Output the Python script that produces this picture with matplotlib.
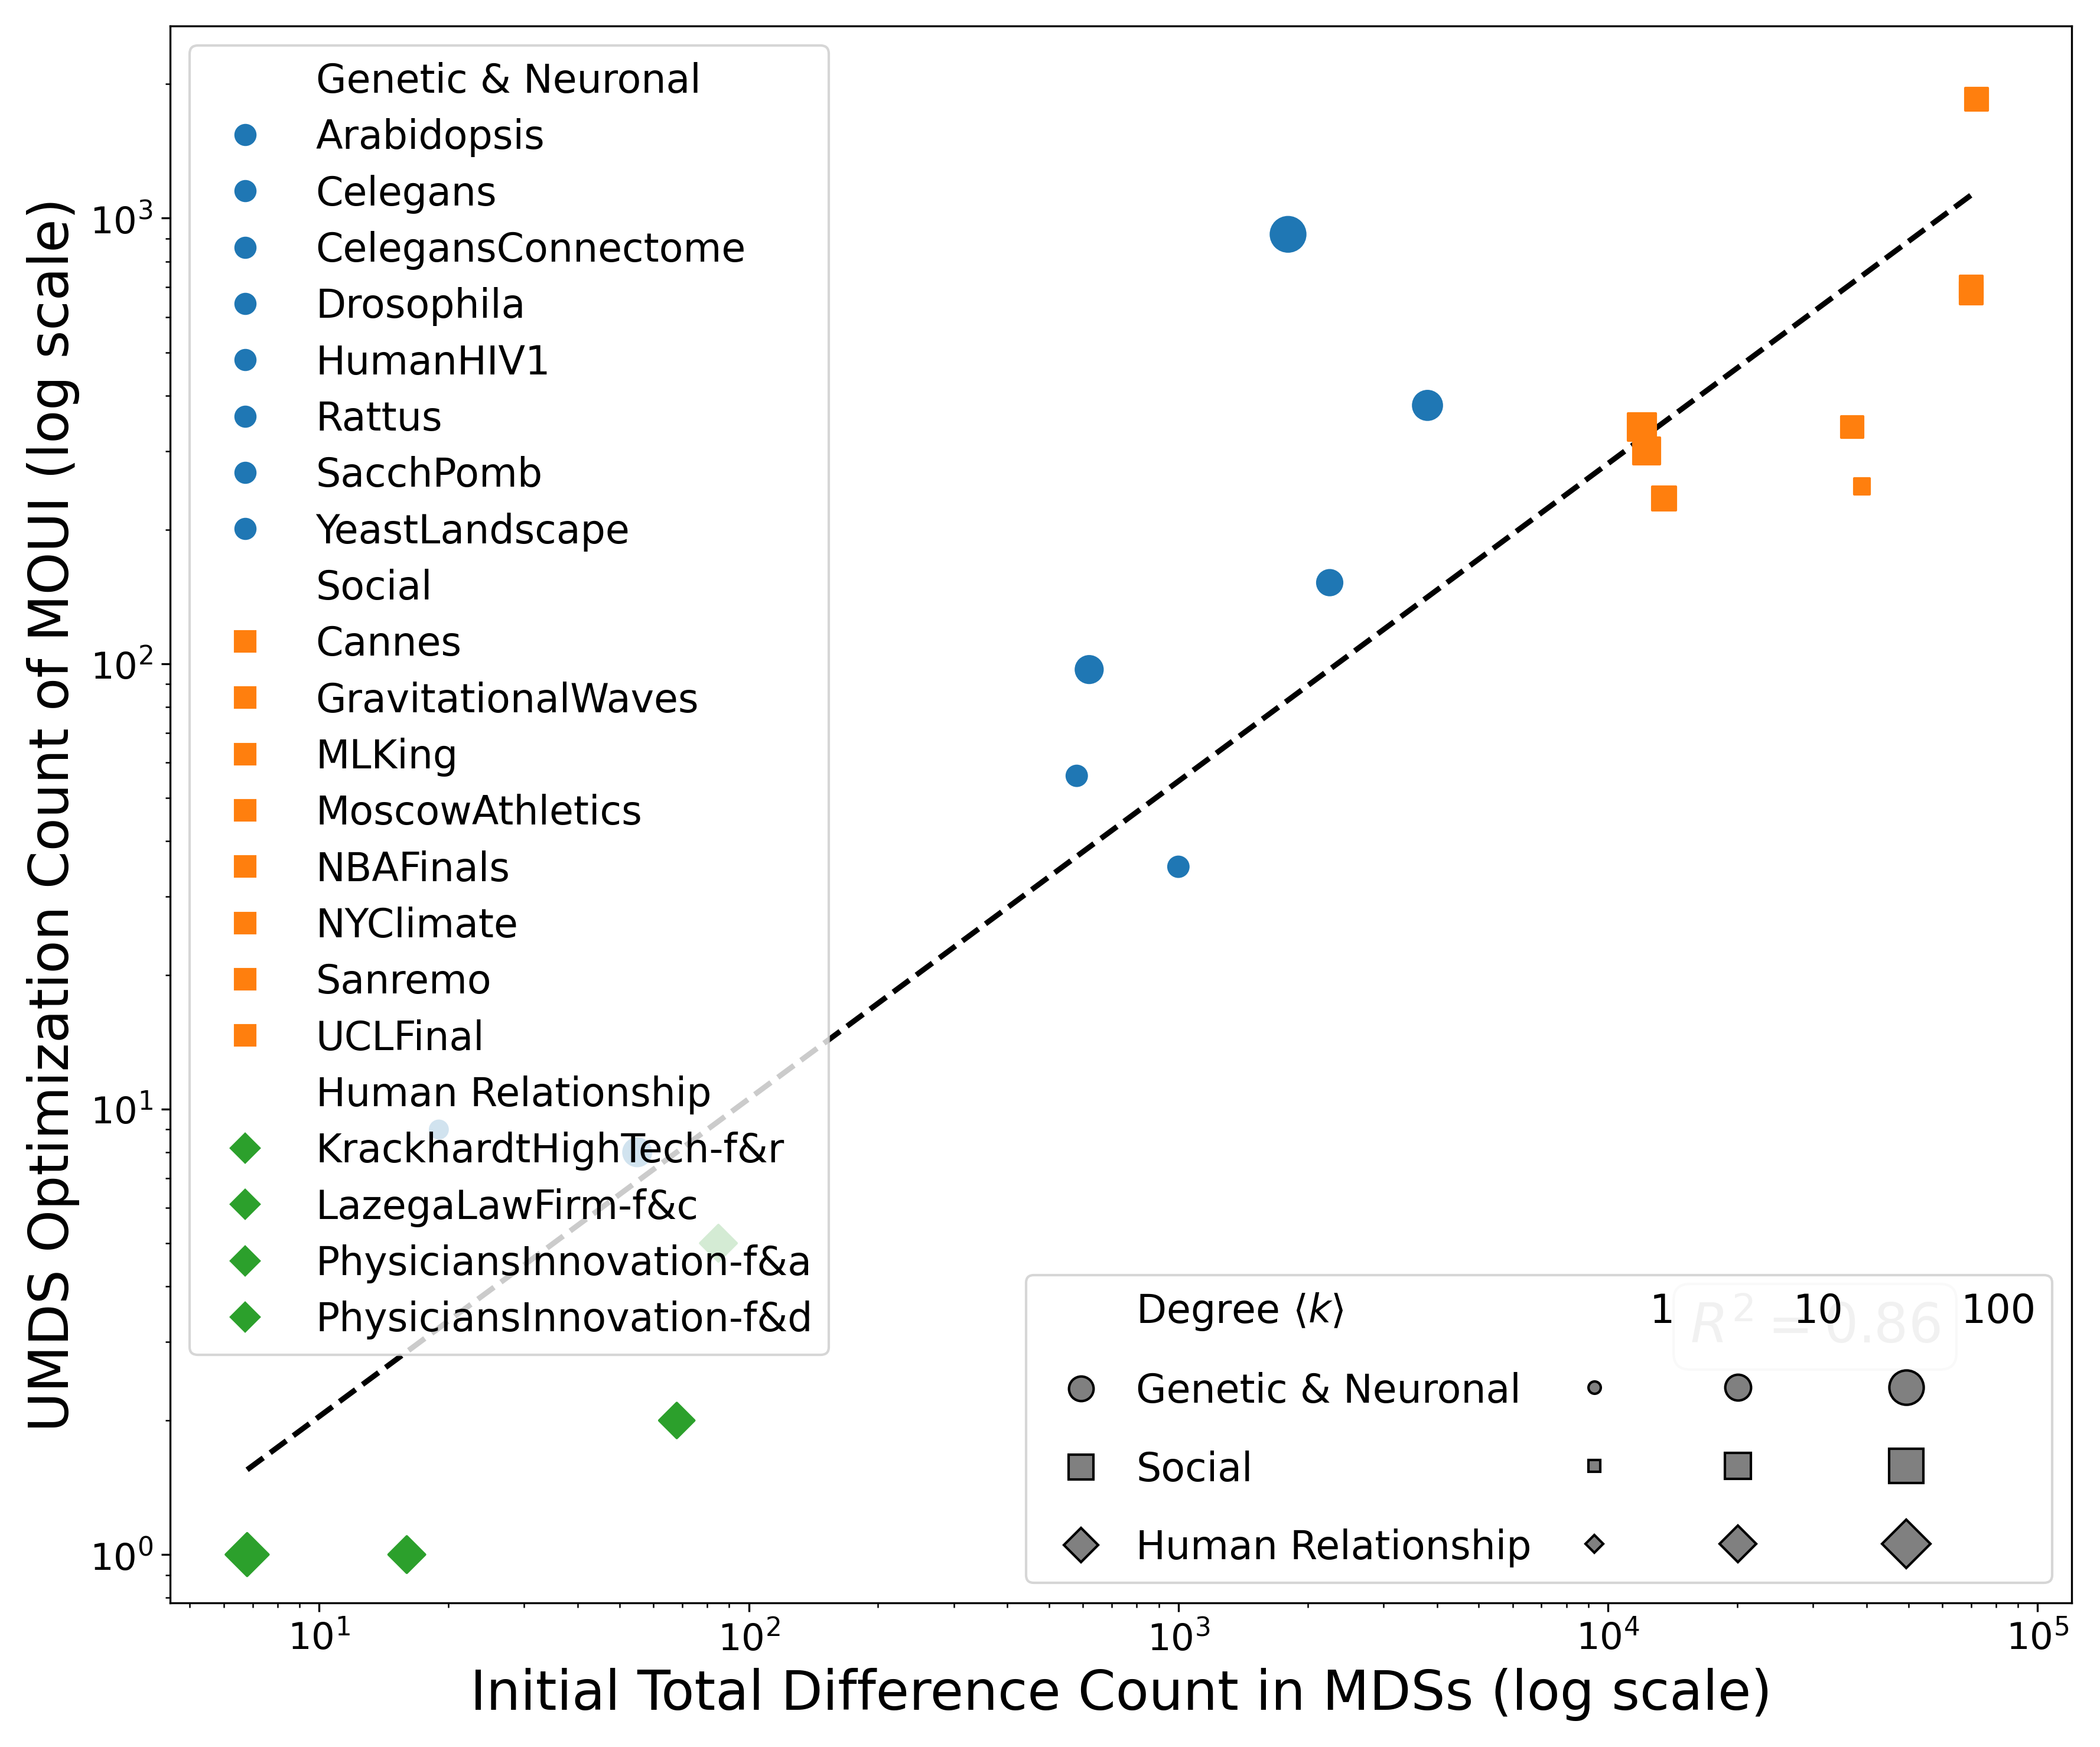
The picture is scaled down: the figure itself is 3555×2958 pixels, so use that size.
import numpy as np
import matplotlib.pyplot as plt
from matplotlib.lines import Line2D

gen_names = ['Arabidopsis', 'Celegans', 'CelegansConnectome', 'Drosophila',
             'HumanHIV1', 'Rattus', 'SacchPomb', 'YeastLandscape']
gen_x = [1800, 3800, 2250, 620, 580, 1000, 19, 55]
gen_y = [920, 380, 152, 97, 56, 35, 9, 8]
gen_k = [100, 20, 8, 12, 3, 3, 2, 15]

soc_names = ['Cannes', 'GravitationalWaves', 'MLKing', 'MoscowAthletics',
             'NBAFinals', 'NYClimate', 'Sanremo', 'UCLFinal']
soc_x = [72000, 70000, 70000, 12000, 12300, 13500, 37000, 39000]
soc_y = [1850, 700, 680, 340, 300, 235, 340, 250]
soc_k = [5, 5, 5, 15, 12, 6, 4, 1.5]

hum_names = ['KrackhardtHighTech-f&r', 'LazegaLawFirm-f&c',
             'PhysiciansInnovation-f&a', 'PhysiciansInnovation-f&d']
hum_x = [6.8, 16, 68, 85]
hum_y = [1, 1, 2, 5]
hum_k = [30, 10, 8, 10]

fit_x = [6.8, 72000]
fit_y = [1.55, 1150]
r2 = 0.86

def size(k):
    return 25 + 85 * np.log10(np.array(k, dtype=float))

fig, ax = plt.subplots(figsize=(11.853, 9.863), dpi=300)
groups = [('Genetic & Neuronal', gen_names, gen_x, gen_y, gen_k, 'o', '#1f77b4'),
          ('Social', soc_names, soc_x, soc_y, soc_k, 's', '#ff7f0e'),
          ('Human Relationship', hum_names, hum_x, hum_y, hum_k, 'D', '#2ca02c')]
for g, names, x, y, k, m, c in groups:
    ax.scatter(x, y, s=size(k), marker=m, color=c, zorder=3)
ax.plot(fit_x, fit_y, 'k--', lw=2.2, zorder=2)
ax.set_xscale('log')
ax.set_yscale('log')
ax.set_xlim(4.5, 1.2e5)
ax.set_ylim(0.78, 2700)
ax.tick_params(labelsize=15)
ax.set_xlabel('Initial Total Difference Count in MDSs (log scale)', fontsize=22)
ax.set_ylabel('UMDS Optimization Count of MOUI (log scale)', fontsize=22)

ax.text(0.865, 0.175, f'$R^2 = {r2}$', transform=ax.transAxes, fontsize=22,
        ha='center', va='center', color='#bbbbbb',
        bbox=dict(facecolor='white', edgecolor='#dddddd', alpha=0.8, boxstyle='round'))

blank = Line2D([], [], linestyle='none')
handles, labels = [], []
for g, names, x, y, k, m, c in groups:
    handles.append(blank); labels.append(g)
    for n in names:
        handles.append(Line2D([], [], marker=m, color=c, linestyle='none', markersize=8))
        labels.append(n)
leg1 = ax.legend(handles, labels, loc='upper left', fontsize=16, handletextpad=0.8,
                 labelspacing=0.44)
ax.add_artist(leg1)

h2, l2 = [blank], ['Degree $\\langle k\\rangle$']
for g, names, x, y, k, m, c in groups:
    h2.append(Line2D([], [], marker=m, color='gray', mec='k', linestyle='none', markersize=10))
    l2.append(g)
for kk in [1, 10, 100]:
    h2.append(blank); l2.append(str(kk))
    for g, names, x, y, k, m, c in groups:
        h2.append(Line2D([], [], marker=m, color='gray', mec='k', linestyle='none',
                         markersize=float(np.sqrt(size([kk])[0]))))
        l2.append('')
ax.legend(h2, l2, loc='lower right', ncol=4, fontsize=16, labelspacing=1.0,
          columnspacing=0.6, handletextpad=0.4)
plt.tight_layout()
plt.savefig('out.png', dpi=300)
